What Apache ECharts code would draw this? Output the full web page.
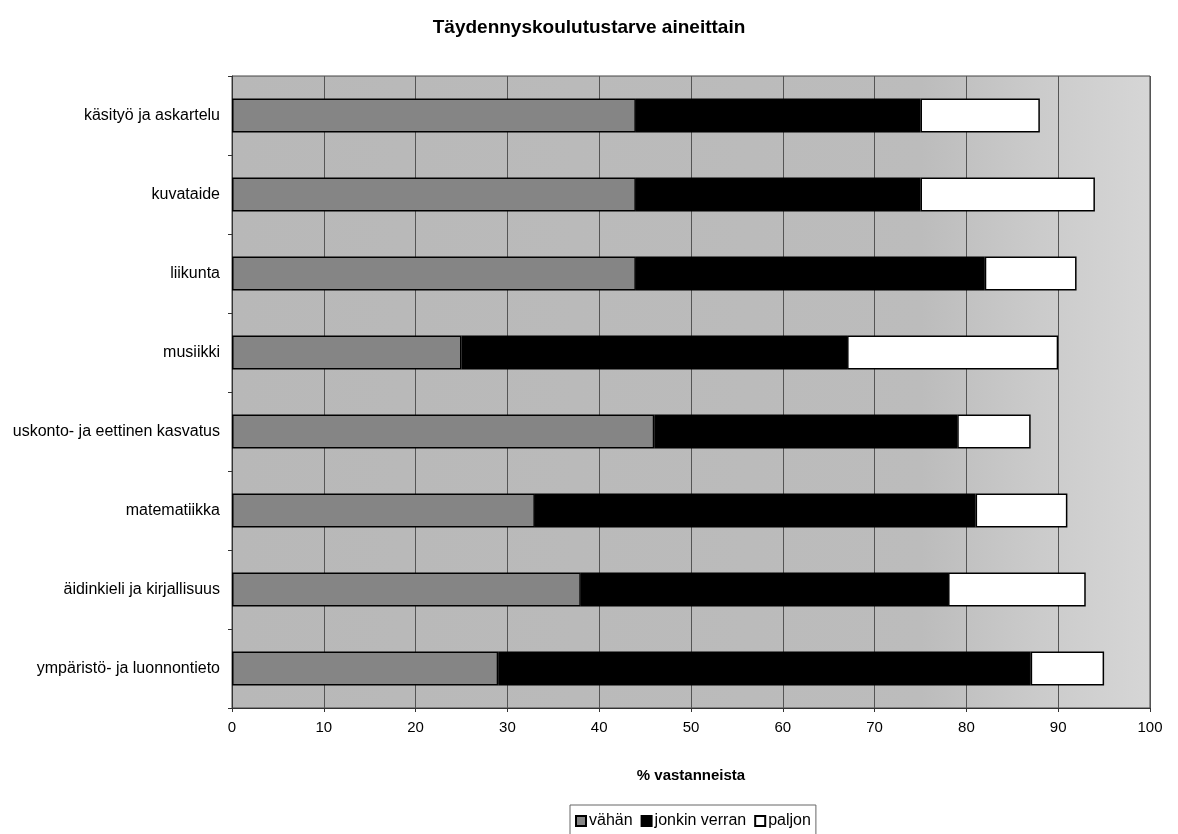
<!DOCTYPE html>
<html>
<head>
<meta charset="utf-8">
<script src="https://cdn.jsdelivr.net/npm/echarts@6/dist/echarts.min.js"></script>
<style>
  html, body { margin: 0; padding: 0; background: #fff; }
  #chart { width: 1178px; height: 834px; }
</style>
</head>
<body>
<div id="chart"></div>
<script>
// Subjects, listed top to bottom
const subjects = [
  'käsityö ja askartelu',
  'kuvataide',
  'liikunta',
  'musiikki',
  'uskonto- ja eettinen kasvatus',
  'matematiikka',
  'äidinkieli ja kirjallisuus',
  'ympäristö- ja luonnontieto'
];

// Share of respondents (%) per level of need
const vahan = [44, 44, 44, 25, 46, 33, 38, 29];
const jonkinVerran = [31, 31, 38, 42, 33, 48, 40, 58];
const paljon = [13, 19, 10, 23, 8, 10, 15, 8];

const xTicks = [0, 10, 20, 30, 40, 50, 60, 70, 80, 90, 100];

const font = '"Liberation Sans", Arial, sans-serif';

const chart = echarts.init(document.getElementById('chart'), null, { renderer: 'canvas' });

function seg(name, data, color) {
  return {
    name: name,
    type: 'bar',
    stack: 'tarve',
    data: data,
    barWidth: 34,
    itemStyle: { color: color, borderColor: '#000', borderWidth: 1.5 },
    emphasis: { disabled: true }
  };
}

chart.setOption({
  animation: false,
  backgroundColor: '#fff',
  title: {
    text: 'Täydennyskoulutustarve aineittain',
    left: 'center',
    top: 13,
    textStyle: { fontFamily: font, fontSize: 19, fontWeight: 'bold', color: '#000' }
  },
  legend: {
    left: 570,
    top: 805,
    icon: 'rect',
    itemWidth: 10,
    itemHeight: 10,
    itemGap: 8,
    padding: [8, 5, 10, 5],
    borderColor: '#666',
    borderWidth: 1,
    textStyle: { fontFamily: font, fontSize: 16, color: '#000', padding: [0, 0, 0, -2] },
    data: ['vähän', 'jonkin verran', 'paljon']
  },
  grid: {
    left: 232,
    right: 28,
    top: 76,
    bottom: 126,
    show: true,
    borderColor: '#444',
    borderWidth: 1,
    backgroundColor: {
      type: 'linear', x: 0, y: 0, x2: 1, y2: 0,
      colorStops: [
        { offset: 0, color: '#b8b8b8' },
        { offset: 0.75, color: '#bcbcbc' },
        { offset: 0.88, color: '#cbcbcb' },
        { offset: 1, color: '#d6d6d6' }
      ]
    }
  },
  xAxis: {
    type: 'value',
    min: xTicks[0],
    max: xTicks[xTicks.length - 1],
    interval: 10,
    name: '% vastanneista',
    nameLocation: 'middle',
    nameGap: 60,
    nameTextStyle: { fontFamily: font, fontSize: 15, fontWeight: 'bold', color: '#000' },
    axisLine: { show: true, lineStyle: { color: '#333', width: 1 } },
    axisTick: { show: true, length: 4, lineStyle: { color: '#333' } },
    axisLabel: { fontFamily: font, fontSize: 15, color: '#000', margin: 12 },
    splitLine: { show: true, lineStyle: { color: '#555', width: 1 } }
  },
  yAxis: {
    type: 'category',
    inverse: true,
    data: subjects,
    axisLine: { show: true, lineStyle: { color: '#333', width: 1 } },
    axisTick: { show: true, length: 4, lineStyle: { color: '#333' } },
    axisLabel: { fontFamily: font, fontSize: 16, color: '#000', margin: 12 },
    splitLine: { show: false }
  },
  series: [
    seg('vähän', vahan, '#858585'),
    seg('jonkin verran', jonkinVerran, '#000000'),
    seg('paljon', paljon, '#ffffff')
  ]
});
</script>
</body>
</html>
